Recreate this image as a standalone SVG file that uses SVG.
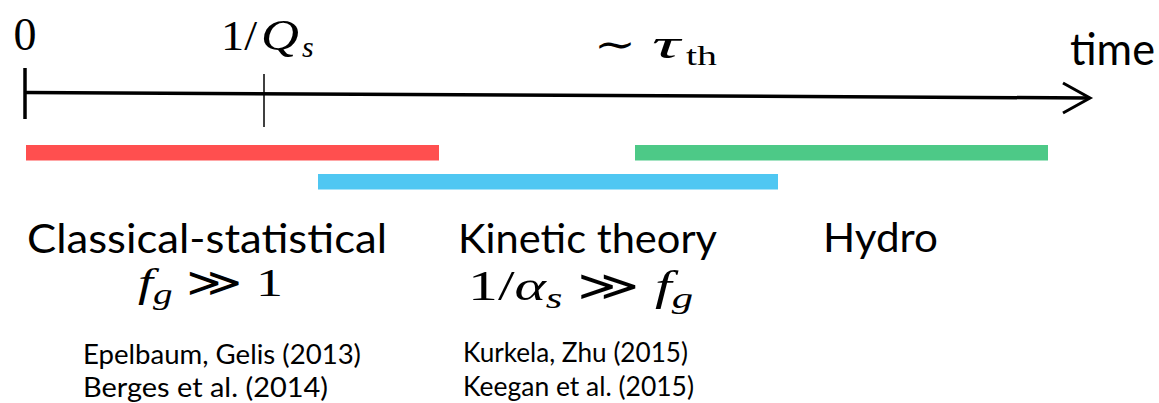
<svg xmlns="http://www.w3.org/2000/svg" width="1159" height="403" viewBox="0 0 1159 403">
<style>
.sans{font-family:Lato,"Open Sans","Liberation Sans",sans-serif;fill:#000}
.math{font-family:"Liberation Serif","DejaVu Serif",serif;fill:#000}
.it{font-style:italic}
.ref{font-size:26px}
.title{font-size:41px}
</style>
<rect width="1159" height="403" fill="#fff"/>
<g id="axis" fill="none" stroke="#000">
<line x1="25" y1="92.5" x2="1089" y2="98" stroke-width="3.5"/>
<polyline points="1063,83 1090,98 1063,113" stroke-width="3"/>
<line x1="25" y1="68" x2="25" y2="119" stroke-width="3.5"/>
<line x1="264" y1="74" x2="264" y2="127" stroke-width="1.5"/>
</g>
<g id="axis-labels">
<text class="math" x="25" y="50" font-size="46" text-anchor="middle">0</text>
<text class="math" x="221" y="50" font-size="43" textLength="36" lengthAdjust="spacingAndGlyphs">1/</text>
<text class="math it" x="261" y="50" font-size="44" textLength="38" lengthAdjust="spacingAndGlyphs">Q</text>
<text class="math it" x="302" y="57" font-size="30">s</text>
<text class="math" x="594" y="58" font-size="40" textLength="42" lengthAdjust="spacingAndGlyphs">∼</text>
<text class="math it" x="652" y="58" font-size="42" textLength="28" lengthAdjust="spacingAndGlyphs">τ</text>
<text class="math" x="686" y="65" font-size="28" textLength="31" lengthAdjust="spacingAndGlyphs">th</text>
<text class="sans" x="1070" y="65" font-size="44" textLength="85" lengthAdjust="spacingAndGlyphs">time</text>
</g>
<g id="bars">
<rect id="bar-classical" x="26" y="145" width="413" height="15.5" fill="#FF4F4F"/>
<rect id="bar-kinetic" x="318" y="174" width="460" height="15.5" fill="#4FC7F2"/>
<rect id="bar-hydro" x="635" y="145" width="413" height="15.5" fill="#4DC987"/>
</g>
<g id="classical">
<text class="sans title" x="27" y="253" textLength="360" lengthAdjust="spacingAndGlyphs">Classical-statistical</text>
<text class="math" x="138" y="296" font-size="40" textLength="145" lengthAdjust="spacingAndGlyphs"><tspan class="it">f</tspan><tspan class="it" font-size="29" dy="8">g</tspan><tspan dy="-8"> ≫ 1</tspan></text>
<text class="sans ref" x="83" y="364" textLength="278" lengthAdjust="spacingAndGlyphs">Epelbaum, Gelis (2013)</text>
<text class="sans ref" x="83" y="397" textLength="245" lengthAdjust="spacingAndGlyphs">Berges et al. (2014)</text>
</g>
<g id="kinetic">
<text class="sans title" x="458" y="253" textLength="259" lengthAdjust="spacingAndGlyphs">Kinetic theory</text>
<text class="math" x="468" y="300" font-size="42" textLength="225" lengthAdjust="spacingAndGlyphs">1/<tspan class="it">α</tspan><tspan class="it" font-size="30" dy="8">s</tspan><tspan dy="-8"> ≫ </tspan><tspan class="it">f</tspan><tspan class="it" font-size="30" dy="8">g</tspan></text>
<text class="sans ref" x="463" y="362" textLength="225" lengthAdjust="spacingAndGlyphs">Kurkela, Zhu (2015)</text>
<text class="sans ref" x="463" y="396" textLength="231" lengthAdjust="spacingAndGlyphs">Keegan et al. (2015)</text>
</g>
<g id="hydro">
<text class="sans title" x="823" y="252" textLength="115" lengthAdjust="spacingAndGlyphs">Hydro</text>
</g>
</svg>
